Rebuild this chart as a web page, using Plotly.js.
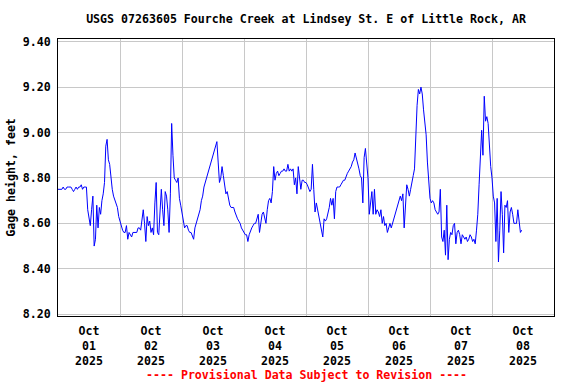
<!DOCTYPE html>
<html>
<head>
<meta charset="utf-8">
<script src="https://cdn.plot.ly/plotly-3.0.1.min.js"></script>
<style>html,body{margin:0;padding:0;background:#fff;}#chart{width:576px;height:384px;}</style>
</head>
<body>
<div id="chart"></div>
<script>
// ---- Data (half-hourly readings starting 2025-10-01 00:00) ----
var startTime = '2025-10-01T00:00:00';
var stepHours = 0.5;
var gageHeight = [
  8.75, 8.75, 8.75, 8.75, 8.76, 8.75, 8.75, 8.76, 8.76, 8.76, 8.76, 8.75,
  8.74, 8.75, 8.76, 8.75, 8.76, 8.76, 8.77, 8.75, 8.76, 8.76, 8.76, 8.66,
  8.62, 8.59, 8.66, 8.72, 8.50, 8.53, 8.68, 8.58, 8.67, 8.64, 8.70, 8.73,
  8.78, 8.94, 8.97, 8.88, 8.86, 8.79, 8.75, 8.72, 8.70, 8.69, 8.67, 8.63,
  8.61, 8.58, 8.57, 8.56, 8.56, 8.59, 8.53, 8.56, 8.55, 8.54, 8.56, 8.56,
  8.56, 8.56, 8.58, 8.58, 8.57, 8.62, 8.66, 8.60, 8.52, 8.63, 8.59, 8.61,
  8.56, 8.58, 8.55, 8.69, 8.78, 8.56, 8.55, 8.65, 8.75, 8.66, 8.59, 8.74,
  8.72, 8.66, 8.56, 8.73, 9.04, 8.90, 8.80, 8.79, 8.78, 8.80, 8.71, 8.68,
  8.64, 8.62, 8.58, 8.59, 8.59, 8.57, 8.56, 8.56, 8.54, 8.53, 8.58, 8.60,
  8.62, 8.64, 8.66, 8.70, 8.72, 8.76, 8.78, 8.80, 8.81, 8.83, 8.85, 8.88,
  8.89, 8.91, 8.93, 8.96, 8.87, 8.78, 8.80, 8.85, 8.81, 8.76, 8.73, 8.74,
  8.71, 8.68, 8.67, 8.67, 8.67, 8.65, 8.63, 8.62, 8.61, 8.60, 8.58, 8.57,
  8.56, 8.55, 8.55, 8.52, 8.55, 8.57, 8.58, 8.59, 8.60, 8.60, 8.62, 8.64,
  8.56, 8.60, 8.64, 8.65, 8.63, 8.60, 8.66, 8.70, 8.71, 8.69, 8.74, 8.85,
  8.79, 8.82, 8.83, 8.81, 8.82, 8.83, 8.83, 8.84, 8.83, 8.83, 8.86, 8.83,
  8.84, 8.83, 8.84, 8.77, 8.80, 8.73, 8.85, 8.80, 8.75, 8.79, 8.79, 8.78,
  8.78, 8.77, 8.75, 8.74, 8.75, 8.86, 8.75, 8.65, 8.69, 8.66, 8.63, 8.59,
  8.56, 8.54, 8.62, 8.61, 8.62, 8.64, 8.67, 8.71, 8.68, 8.71, 8.62, 8.74,
  8.76, 8.76, 8.76, 8.77, 8.78, 8.79, 8.79, 8.81, 8.82, 8.83, 8.84, 8.85,
  8.87, 8.88, 8.91, 8.89, 8.86, 8.84, 8.81, 8.80, 8.69, 8.89, 8.93, 8.87,
  8.80, 8.64, 8.71, 8.74, 8.64, 8.75, 8.64, 8.66, 8.65, 8.63, 8.66, 8.60,
  8.63, 8.59, 8.60, 8.56, 8.58, 8.60, 8.58, 8.60, 8.61, 8.64, 8.66, 8.68,
  8.70, 8.72, 8.70, 8.73, 8.58, 8.68, 8.77, 8.75, 8.72, 8.75, 8.79, 8.81,
  8.84, 9.02, 9.12, 9.19, 9.17, 9.20, 9.17, 9.10, 9.05, 8.99, 8.87, 8.80,
  8.71, 8.69, 8.70, 8.69, 8.66, 8.65, 8.64, 8.65, 8.75, 8.54, 8.52, 8.57,
  8.46, 8.68, 8.44, 8.53, 8.56, 8.55, 8.59, 8.60, 8.51, 8.56, 8.57, 8.55,
  8.51, 8.55, 8.54, 8.53, 8.54, 8.52, 8.53, 8.55, 8.54, 8.52, 8.53, 8.51,
  8.57, 8.64, 8.77, 8.87, 9.01, 8.90, 9.16, 9.05, 9.07, 9.04, 8.92, 8.85,
  8.80, 8.72, 8.69, 8.52, 8.71, 8.43, 8.57, 8.74, 8.64, 8.47, 8.68, 8.67,
  8.70, 8.56, 8.65, 8.67, 8.64, 8.60, 8.60, 8.60, 8.66, 8.59, 8.56, 8.57
];
var yTicks = [8.20, 8.40, 8.60, 8.80, 9.00, 9.20, 9.40];
var xRange = ['2025-10-01 00:00', '2025-10-09 00:00'];
var yRange = [8.192, 9.412];
var chartTitle = 'USGS 07263605 Fourche Creek at Lindsey St. E of Little Rock, AR';
var yTitle = 'Gage height, feet';
var footer = '---- Provisional Data Subject to Revision ----';

// build timestamps
var t0 = new Date(startTime + 'Z').getTime();
var times = gageHeight.map(function (v, i) {
  var d = new Date(t0 + i * stepHours * 3600000);
  return d.toISOString().replace('T', ' ').slice(0, 19);
});

var fam = '"DejaVu Sans Mono", "Liberation Mono", monospace';
var f = {family: fam, size: 11.6, color: '#000', weight: 700};

var trace = {
  x: times, y: gageHeight, type: 'scatter', mode: 'lines',
  line: {color: '#0000ff', width: 1}, hoverinfo: 'skip'
};

var layout = {
  width: 576, height: 384,
  margin: {l: 58, r: 22, t: 39, b: 68, pad: 0},
  paper_bgcolor: '#fff', plot_bgcolor: '#fff',
  showlegend: false,
  title: {text: chartTitle, font: f, x: 0.5, xref: 'paper', xanchor: 'center',
          y: 1 - 19 / 384, yref: 'container', yanchor: 'middle'},
  xaxis: {
    type: 'date', range: xRange, dtick: 86400000, tick0: '2025-10-01',
    ticklabelmode: 'period', tickformat: '%b<br>%d<br>%Y',
    showgrid: true, gridcolor: '#c8c8c8', gridwidth: 1,
    showline: true, mirror: true, linecolor: '#000', linewidth: 1,
    ticks: 'outside', ticklen: 4, tickcolor: 'rgba(0,0,0,0)',
    zeroline: false, tickfont: f
  },
  yaxis: {
    range: yRange, tickvals: yTicks, tickformat: '.2f',
    showgrid: true, gridcolor: '#c8c8c8', gridwidth: 1,
    showline: true, mirror: true, linecolor: '#000', linewidth: 1,
    ticks: 'outside', ticklen: 4, tickcolor: 'rgba(0,0,0,0)',
    zeroline: false, tickfont: f,
    title: {text: yTitle, font: f, standoff: 4}
  },
  annotations: [{
    text: footer, xref: 'paper', yref: 'paper', x: 0.5, y: -(375 - 316) / 277,
    xanchor: 'center', yanchor: 'middle', showarrow: false,
    font: {family: fam, size: 11.6, color: '#ff0000', weight: 700}
  }]
};

Plotly.newPlot('chart', [trace], layout, {staticPlot: true, displayModeBar: false});
</script>
</body>
</html>
